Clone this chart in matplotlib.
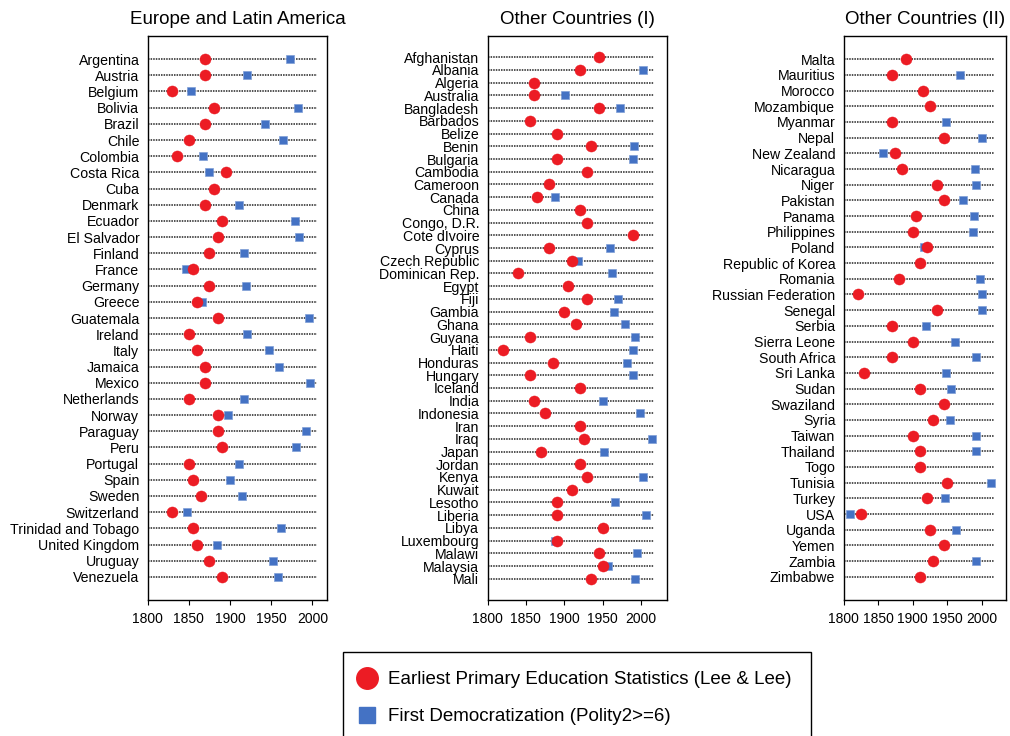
import numpy as np
import matplotlib
matplotlib.use("Agg")
import matplotlib.pyplot as plt
from matplotlib.lines import Line2D

plt.rcParams["font.family"] = ["Liberation Sans", "DejaVu Sans"]

nan = np.nan

# ---- Europe and Latin America ----
eu_countries = ["Argentina", "Austria", "Belgium", "Bolivia", "Brazil", "Chile",
                "Colombia", "Costa Rica", "Cuba", "Denmark", "Ecuador", "El Salvador",
                "Finland", "France", "Germany", "Greece", "Guatemala", "Ireland",
                "Italy", "Jamaica", "Mexico", "Netherlands", "Norway", "Paraguay",
                "Peru", "Portugal", "Spain", "Sweden", "Switzerland",
                "Trinidad and Tobago", "United Kingdom", "Uruguay", "Venezuela"]
eu_education = [1870, 1870, 1830, 1880, 1870, 1850, 1835, 1895, 1880, 1870, 1890, 1885,
                1875, 1855, 1875, 1860, 1885, 1850, 1860, 1870, 1870, 1850, 1885, 1885,
                1890, 1850, 1855, 1865, 1830, 1855, 1860, 1875, 1890]
eu_democracy = [1973, 1920, 1853, 1982, 1942, 1964, 1867, 1875, nan, 1911, 1979, 1984,
                1917, 1847, 1919, 1866, 1996, 1921, 1947, 1959, 1997, 1917, 1898, 1992,
                1980, 1911, 1900, 1914, 1848, 1962, 1884, 1952, 1958]

# ---- Other Countries (I) ----
o1_countries = ["Afghanistan", "Albania", "Algeria", "Australia", "Bangladesh", "Barbados",
                "Belize", "Benin", "Bulgaria", "Cambodia", "Cameroon", "Canada", "China",
                "Congo, D.R.", "Cote dIvoire", "Cyprus", "Czech Republic", "Dominican Rep.",
                "Egypt", "Fiji", "Gambia", "Ghana", "Guyana", "Haiti", "Honduras", "Hungary",
                "Iceland", "India", "Indonesia", "Iran", "Iraq", "Japan", "Jordan", "Kenya",
                "Kuwait", "Lesotho", "Liberia", "Libya", "Luxembourg", "Malawi", "Malaysia",
                "Mali"]
o1_education = [1945, 1920, 1860, 1860, 1945, 1855, 1890, 1935, 1890, 1930, 1880, 1865, 1920,
                1930, 1990, 1880, 1910, 1840, 1905, 1930, 1900, 1915, 1855, 1820, 1885, 1855,
                1920, 1860, 1875, 1920, 1925, 1870, 1920, 1930, 1910, 1890, 1890, 1950, 1890,
                1945, 1950, 1935]
o1_democracy = [nan, 2002, nan, 1901, 1972, nan, nan, 1991, 1990, nan, nan, 1888, nan,
                nan, nan, 1960, 1918, 1962, nan, 1970, 1965, 1979, 1992, 1990, 1982, 1990,
                nan, 1950, 1999, nan, 2014, 1952, nan, 2002, nan, 1966, 2006, nan, 1888,
                1994, 1957, 1992]

# ---- Other Countries (II) ----
o2_countries = ["Malta", "Mauritius", "Morocco", "Mozambique", "Myanmar", "Nepal",
                "New Zealand", "Nicaragua", "Niger", "Pakistan", "Panama", "Philippines",
                "Poland", "Republic of Korea", "Romania", "Russian Federation", "Senegal",
                "Serbia", "Sierra Leone", "South Africa", "Sri Lanka", "Sudan", "Swaziland",
                "Syria", "Taiwan", "Thailand", "Togo", "Tunisia", "Turkey", "USA", "Uganda",
                "Yemen", "Zambia", "Zimbabwe"]
o2_education = [1890, 1870, 1915, 1925, 1870, 1945, 1875, 1885, 1935, 1945, 1905, 1900,
                1920, 1910, 1880, 1820, 1935, 1870, 1900, 1870, 1830, 1910, 1945, 1930,
                1900, 1910, 1910, 1950, 1920, 1825, 1925, 1945, 1930, 1910]
o2_democracy = [nan, 1968, nan, nan, 1948, 2000, 1857, 1990, 1992, 1973, 1989, 1987,
                1916, nan, 1997, 2000, 2000, 1919, 1961, 1992, 1948, 1956, nan, 1954,
                1992, 1992, nan, 2014, 1946, 1809, 1962, nan, 1991, nan]

xticks = [1800, 1850, 1900, 1950, 2000]

RED = "#EC1C24"
BLUE = "#4472C4"
W, H = 1010, 736

panels = [
    # title, countries, education, democracy, (left, width) px, xmax, line end, margin rows
    ("Europe and Latin America", eu_countries, eu_education, eu_democracy,
     (147.7, 179.6), 2018, 2005, 1.43),
    ("Other Countries (I)", o1_countries, o1_education, o1_democracy,
     (487.5, 179.4), 2033.5, 2017, 1.67),
    ("Other Countries (II)", o2_countries, o2_education, o2_democracy,
     (843.7, 162.3), 2035, 2017, 1.48),
]

fig = plt.figure(figsize=(W / 100, H / 100), dpi=100)
top_px, bottom_px = 36, 600

for title, names, edu, dem, (left, width), xmax, line_end, margin in panels:
    ax = fig.add_axes([left / W, 1 - bottom_px / H, width / W, (bottom_px - top_px) / H])
    y = np.arange(len(names))
    ax.hlines(y, 1800, line_end, colors="#222222", linestyles=(0, (1, 0.7)),
              linewidth=1.1, zorder=1)
    ax.plot(dem, y, "s", ms=6.4, color=BLUE, mec="#7f9fd6", mew=0.5, zorder=3)
    ax.plot(edu, y, "o", ms=8.0, color=RED, mec=RED, mew=0.3, zorder=4)
    ax.set_xlim(1800, xmax)
    ax.set_ylim(len(names) - 1 + margin, -margin)
    ax.set_yticks(y)
    ax.set_yticklabels(names)
    ax.set_xticks(xticks)
    ax.tick_params(axis="x", direction="out", length=3.5, width=0.8, labelsize=10, pad=5)
    ax.tick_params(axis="y", length=0, labelsize=10.2, pad=6)
    for s in ax.spines.values():
        s.set_linewidth(1.0)
        s.set_color("black")
    ax.set_title(title, fontsize=13.5, pad=8.6)

handles = [
    Line2D([], [], marker="o", linestyle="none", ms=15.5, color=RED),
    Line2D([], [], marker="s", linestyle="none", ms=11.5, color=BLUE),
]
labels = ["Earliest Primary Education Statistics (Lee & Lee)",
          "First Democratization (Polity2>=6)"]
leg = fig.legend(handles, labels, loc="upper left",
                 bbox_to_anchor=(343 / W, 1 - 652 / H), borderaxespad=0, fontsize=13.5,
                 frameon=True, fancybox=False, edgecolor="black", framealpha=1,
                 borderpad=1.02, handlelength=0.47, handletextpad=0.92, labelspacing=1.06)
leg.get_frame().set_linewidth(1.0)

fig.savefig("out.png", dpi=100)
